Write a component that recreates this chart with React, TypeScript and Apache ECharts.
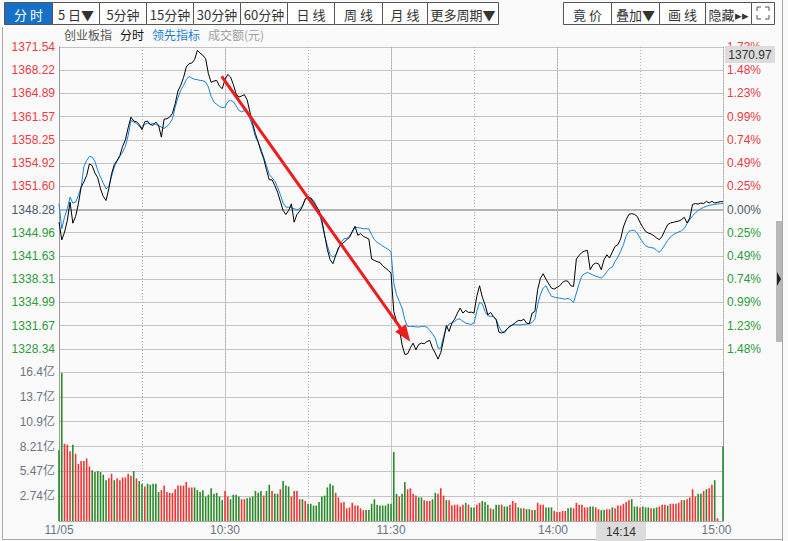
import React, { useEffect, useRef } from 'react';
import * as echarts from 'echarts';

// ---------- data ----------
const priceTicks = [1325.02, 1328.34, 1331.67, 1334.99, 1338.31, 1341.63, 1344.96, 1348.28, 1351.60, 1354.92, 1358.25, 1361.57, 1364.89, 1368.22, 1371.54];
const pctTicks = ['1.73%', '1.48%', '1.23%', '0.99%', '0.74%', '0.49%', '0.25%', '0.00%', '0.25%', '0.49%', '0.74%', '0.99%', '1.23%', '1.48%', '1.73%'];
const volTicks = ['', '2.74亿', '5.47亿', '8.21亿', '10.9亿', '13.7亿', '16.4亿'];
const volMax = 16.42;
const xTickIndex = [0, 60, 120, 180, 240];
const xTickLabels = ['11/05', '10:30', '11:30', '14:00', '15:00'];
const prevClose = 1348.28;

// 指数 (black) per minute, 09:30 .. 11:30 / 13:00 .. 15:00
const indexLine = [
  1346.47, 1343.93, 1345.03, 1346.70, 1349.33, 1346.32, 1347.28, 1349.09, 1351.48, 1352.24,
  1353.15, 1354.82, 1354.54, 1353.49, 1352.82, 1351.24, 1350.14, 1349.57, 1351.24, 1353.39,
  1354.73, 1355.30, 1356.02, 1357.31, 1358.26, 1359.98, 1361.51, 1360.94, 1360.84, 1360.46,
  1359.70, 1360.84, 1360.94, 1360.46, 1360.32, 1360.79, 1360.32, 1358.64, 1361.22, 1361.27,
  1361.51, 1362.04, 1363.42, 1365.24, 1366.05, 1367.15, 1368.67, 1369.15, 1369.25, 1369.73,
  1371.06, 1370.68, 1370.35, 1369.87, 1367.72, 1366.48, 1366.67, 1366.76, 1365.95, 1365.57,
  1366.86, 1367.62, 1367.24, 1366.19, 1364.85, 1364.38, 1364.52, 1364.71, 1363.99, 1362.23,
  1360.56, 1359.12, 1357.93, 1356.59, 1355.54, 1353.96, 1352.53, 1352.53, 1351.72, 1350.76,
  1349.47, 1348.14, 1347.56, 1348.14, 1349.09, 1346.47, 1347.56, 1348.04, 1348.70, 1349.80,
  1350.10, 1349.90, 1349.31, 1348.73, 1348.16, 1346.73, 1344.67, 1342.53, 1341.09, 1340.52,
  1341.67, 1342.81, 1343.29, 1343.58, 1343.96, 1344.29, 1345.15, 1345.87, 1344.58, 1344.82,
  1344.44, 1344.25, 1344.05, 1341.19, 1341.00, 1340.81, 1340.71, 1340.23, 1339.90, 1339.56,
  1339.18, 1333.69, 1332.26, 1331.30, 1328.91, 1327.53, 1327.62, 1328.48, 1329.15, 1328.20,
  1328.96, 1329.15, 1329.06, 1329.39, 1329.54, 1328.44, 1327.72, 1326.86, 1327.82, 1329.63,
  1331.68, 1330.82, 1332.02, 1332.59, 1333.45, 1334.17, 1333.45, 1333.83, 1333.55, 1333.59,
  1333.45, 1335.84, 1337.37, 1335.74, 1334.65, 1333.21, 1333.55, 1332.97, 1332.50, 1330.73,
  1330.59, 1330.82, 1331.21, 1331.54, 1331.78, 1332.11, 1332.40, 1332.35, 1332.59, 1332.02,
  1331.92, 1333.45, 1333.69, 1336.79, 1338.42, 1339.09, 1338.32, 1337.65, 1337.03, 1336.89,
  1337.13, 1337.37, 1337.85, 1338.08, 1337.99, 1337.37, 1337.27, 1341.19, 1341.71, 1342.14,
  1342.33, 1342.43, 1339.66, 1340.38, 1340.62, 1340.52, 1339.66, 1341.09, 1341.81, 1341.33,
  1342.19, 1343.00, 1343.24, 1344.05, 1345.77, 1346.82, 1347.59, 1347.68, 1347.59, 1347.30,
  1346.44, 1345.73, 1345.15, 1344.91, 1344.77, 1344.53, 1344.20, 1343.96, 1344.44, 1345.30,
  1346.11, 1346.35, 1346.44, 1346.54, 1346.63, 1346.82, 1347.16, 1346.35, 1347.06, 1349.02,
  1349.12, 1349.07, 1349.21, 1349.12, 1349.45, 1349.21, 1349.45, 1349.21, 1349.31, 1349.40,
  1349.40,
];

// 领先指标 (blue)
const leadLine = [
  1349.09, 1345.51, 1347.18, 1348.38, 1350.05, 1349.19, 1349.33, 1350.29, 1351.48, 1354.44,
  1355.30, 1355.88, 1355.78, 1355.16, 1353.87, 1352.91, 1352.05, 1351.24, 1351.58, 1353.01,
  1354.35, 1355.21, 1355.88, 1356.50, 1357.31, 1358.88, 1361.03, 1360.79, 1360.65, 1360.17,
  1359.98, 1360.46, 1360.65, 1360.46, 1360.65, 1360.46, 1360.27, 1360.08, 1359.89, 1360.17,
  1360.56, 1361.27, 1362.94, 1364.28, 1365.33, 1366.05, 1366.86, 1367.34, 1367.10, 1366.91,
  1366.86, 1366.76, 1366.72, 1366.53, 1365.81, 1364.47, 1363.66, 1363.33, 1363.04, 1362.85,
  1362.94, 1363.71, 1363.90, 1363.71, 1363.13, 1362.47, 1362.27, 1362.42, 1362.08, 1361.27,
  1360.17, 1358.65, 1357.93, 1356.97, 1355.78, 1354.54, 1353.30, 1352.82, 1352.34, 1351.48,
  1350.43, 1349.19, 1348.62, 1348.62, 1348.52, 1348.38, 1348.23, 1348.38, 1348.84, 1349.70,
  1350.07, 1349.95, 1349.59, 1348.83, 1347.87, 1346.35, 1344.53, 1343.10, 1341.81, 1341.47,
  1341.76, 1342.53, 1343.58, 1344.10, 1344.15, 1344.44, 1345.01, 1345.77, 1345.68, 1345.63,
  1345.53, 1345.53, 1345.49, 1344.67, 1343.96, 1343.58, 1343.34, 1343.05, 1342.81, 1342.57,
  1342.24, 1337.75, 1336.08, 1335.12, 1334.17, 1332.50, 1331.54, 1331.54, 1331.54, 1331.49,
  1331.45, 1331.54, 1331.54, 1331.45, 1330.97, 1330.49, 1329.87, 1328.44, 1328.44, 1330.11,
  1331.30, 1331.92, 1332.02, 1332.26, 1332.59, 1332.59, 1332.26, 1332.02, 1331.92, 1331.83,
  1332.02, 1333.69, 1334.98, 1334.79, 1333.69, 1333.07, 1332.97, 1332.97, 1332.59, 1331.54,
  1330.82, 1330.59, 1331.16, 1331.64, 1331.78, 1331.78, 1331.78, 1331.78, 1331.83, 1331.88,
  1331.92, 1332.11, 1332.59, 1334.65, 1336.08, 1337.03, 1337.37, 1336.56, 1335.84, 1335.74,
  1335.65, 1335.60, 1335.51, 1335.46, 1335.55, 1335.36, 1334.98, 1336.32, 1337.65, 1338.80,
  1339.09, 1339.28, 1339.09, 1338.90, 1338.75, 1338.61, 1338.47, 1338.80, 1339.37, 1339.85,
  1340.04, 1340.85, 1341.47, 1342.29, 1343.24, 1344.53, 1345.15, 1345.30, 1345.30, 1344.91,
  1344.20, 1343.58, 1343.10, 1342.91, 1342.81, 1342.76, 1342.43, 1342.14, 1342.62, 1343.24,
  1343.86, 1344.34, 1344.67, 1344.91, 1345.06, 1345.25, 1345.58, 1346.25, 1346.82, 1347.40,
  1347.78, 1348.11, 1348.40, 1348.59, 1348.73, 1348.88, 1348.95, 1349.02, 1349.07, 1349.10,
  1349.12,
];

// 成交额 (亿元) per minute
const volume = [
  7.8, 16.3, 8.5, 8.4, 7.7, 8.4, 7.4, 6.3, 6.6, 6.6,
  6.9, 6.0, 5.6, 5.4, 5.5, 5.4, 5.1, 4.5, 4.7, 5.2,
  4.5, 4.7, 4.5, 4.8, 4.8, 5.2, 5.0, 5.5, 4.7, 4.4,
  4.1, 3.8, 4.1, 4.0, 4.1, 4.1, 3.2, 3.4, 3.9, 3.2,
  3.1, 3.1, 3.5, 3.9, 3.9, 3.9, 4.3, 3.7, 3.7, 3.7,
  3.4, 3.2, 3.4, 2.7, 2.9, 3.6, 3.0, 3.1, 2.7, 2.3,
  3.3, 2.7, 2.4, 2.9, 2.9, 2.7, 2.4, 2.4, 2.5, 2.6,
  2.7, 3.3, 3.1, 3.3, 2.8, 3.3, 4.0, 3.3, 3.0, 3.0,
  3.5, 4.4, 3.9, 3.8, 2.7, 3.3, 3.3, 2.4, 2.4, 2.2,
  1.9, 1.9, 1.7, 1.7, 2.1, 2.7, 2.8, 3.7, 4.1, 3.9,
  3.1, 2.6, 2.0, 2.1, 1.4, 1.5, 2.0, 1.7, 1.7, 1.4,
  1.2, 1.2, 1.2, 1.9, 2.4, 1.8, 1.7, 1.7, 1.7, 1.9,
  1.9, 7.6, 3.0, 2.7, 3.0, 4.3, 3.5, 3.6, 3.0, 2.8,
  2.6, 2.6, 2.3, 2.2, 2.2, 2.4, 3.1, 3.0, 3.6, 2.8,
  2.3, 2.3, 1.7, 1.8, 1.8, 1.6, 1.8, 2.0, 1.8, 1.5,
  1.5, 1.8, 2.0, 2.2, 2.1, 1.8, 1.4, 1.3, 1.8, 1.8,
  1.8, 1.6, 1.6, 1.8, 2.2, 2.0, 1.5, 1.4, 1.4, 1.3,
  1.3, 1.2, 1.2, 2.0, 1.8, 1.8, 1.5, 1.5, 1.5, 1.1,
  1.0, 1.0, 1.1, 1.1, 1.4, 1.5, 1.4, 2.0, 1.8, 1.8,
  1.5, 1.5, 1.6, 1.6, 1.5, 1.3, 1.2, 1.2, 1.3, 1.3,
  1.5, 1.4, 1.7, 1.7, 1.9, 2.1, 2.3, 2.4, 1.6, 1.6,
  1.5, 1.6, 1.5, 1.5, 1.4, 1.4, 1.5, 1.6, 1.8, 1.8,
  1.7, 1.9, 1.9, 1.9, 2.0, 2.3, 2.3, 2.4, 2.6, 3.5,
  2.7, 3.0, 3.0, 3.3, 3.5, 3.6, 4.0, 4.5, 0.3, 0,
  8.2,
];
// 1 = up (red), 0 = down (green)
const volumeUp = [
  0, 0, 1, 1, 1, 0, 1, 1, 1, 1,
  1, 1, 0, 0, 0, 0, 0, 0, 1, 1,
  0, 1, 1, 1, 1, 1, 1, 0, 1, 0,
  0, 1, 0, 0, 0, 0, 0, 1, 1, 1,
  1, 1, 1, 1, 1, 1, 1, 1, 1, 0,
  0, 0, 0, 0, 0, 0, 0, 0, 0, 0,
  1, 1, 0, 0, 0, 0, 1, 1, 0, 0,
  0, 0, 0, 0, 1, 0, 0, 1, 0, 0,
  1, 0, 0, 0, 1, 1, 1, 1, 0, 1,
  0, 0, 0, 0, 0, 0, 0, 0, 0, 0,
  1, 1, 1, 1, 1, 1, 1, 1, 1, 1,
  1, 0, 0, 0, 0, 0, 0, 0, 0, 0,
  0, 0, 0, 1, 0, 0, 1, 1, 1, 1,
  0, 0, 1, 1, 1, 0, 0, 1, 1, 1,
  0, 1, 1, 1, 1, 1, 1, 0, 1, 0,
  0, 1, 1, 0, 0, 0, 1, 0, 0, 0,
  1, 0, 0, 1, 1, 1, 0, 0, 1, 0,
  0, 1, 0, 1, 1, 1, 0, 0, 0, 1,
  1, 1, 1, 1, 0, 0, 1, 1, 1, 1,
  1, 1, 0, 0, 1, 1, 0, 0, 1, 1,
  0, 1, 1, 1, 1, 1, 1, 0, 0, 0,
  1, 0, 0, 0, 1, 0, 0, 1, 1, 1,
  0, 1, 1, 1, 1, 1, 0, 1, 1, 1,
  1, 0, 0, 1, 0, 1, 1, 0, 1, 0,
  0,
];

// annotation arrow (minute index, price)
const arrowFrom = [58.8, 1367.34];
const arrowTo = [125.2, 1330.34];

const crossPrice = '1370.97';
const crossTime = '14:14';

// ---------- styles ----------
const FONT = '"Liberation Sans", Arial, "Noto Sans CJK SC", sans-serif';
const CJK = '"Noto Sans CJK SC", "Microsoft YaHei", sans-serif';
const RED = '#ee3a45';
const GREEN = '#2e9a3a';
const NEUTRAL = '#4c5a6a';
const BAR_RED = '#f03434';
const BAR_GREEN = '#2a8a2a';
const GRID = '#c4c4c4';

const minuteLabels: string[] = [];
for (let i = 0; i <= 240; i++) {
  const m = i <= 120 ? 9 * 60 + 30 + i : 13 * 60 + (i - 120);
  minuteLabels.push(String(Math.floor(m / 60)).padStart(2, '0') + ':' + String(m % 60).padStart(2, '0'));
}

const leftButtons = [
  { t: '分 时', x: 4, w: 48, sel: true },
  { t: '5 日▼', x: 52, w: 47 },
  { t: '5分钟', x: 99, w: 47 },
  { t: '15分钟', x: 146, w: 47 },
  { t: '30分钟', x: 193, w: 47 },
  { t: '60分钟', x: 240, w: 47 },
  { t: '日 线', x: 287, w: 47 },
  { t: '周 线', x: 334, w: 48 },
  { t: '月 线', x: 382, w: 45 },
  { t: '更多周期▼', x: 427, w: 71 },
];
const rightButtons = [
  { t: '竟 价', x: 563, w: 48 },
  { t: '叠加▼', x: 611, w: 48 },
  { t: '画 线', x: 659, w: 46 },
  { t: '隐藏▸▸', x: 705, w: 46 },
  { t: '', x: 751, w: 23 },
];

export default function App() {
  const ref = useRef<HTMLDivElement>(null);
  useEffect(() => {
    const chart = echarts.init(ref.current!, null, { renderer: 'svg' });
    const pMin = priceTicks[0];
    const pMax = priceTicks[priceTicks.length - 1];
    const pInt = (pMax - pMin) / (priceTicks.length - 1);
    const pIdx = (v: number) => Math.round((v - pMin) / pInt);
    const mid = priceTicks.indexOf(prevClose);
    const tickColor = (v: any) => {
      const k = pIdx(Number(v));
      return k < mid ? GREEN : k > mid ? RED : NEUTRAL;
    };
    const vInt = volMax / (volTicks.length - 1);

    const buttons: any[] = [];
    [...leftButtons, ...rightButtons].forEach((b: any) => {
      buttons.push({
        type: 'rect',
        shape: { x: b.x + 0.5, y: 2.5, width: b.w, height: 22 },
        style: { fill: b.sel ? '#1670c8' : '#ffffff', stroke: '#555555', lineWidth: 1 },
        z: 10,
      });
      if (b.t) {
        buttons.push({
          type: 'text',
          x: b.x + b.w / 2 + 0.5,
          y: 14,
          style: {
            text: b.t,
            fill: b.sel ? '#ffffff' : '#333333',
            font: '13px ' + CJK,
            textAlign: 'center',
            textVerticalAlign: 'middle',
          },
          z: 11,
        });
      }
    });
    // full-screen icon corners
    const fx = 757, fy = 7, fs = 12;
    const corner = (pts: number[][]) => ({
      type: 'polyline', shape: { points: pts }, style: { stroke: '#555', lineWidth: 1, fill: null }, z: 11,
    });
    buttons.push(corner([[fx, fy + 4], [fx, fy], [fx + 4, fy]]));
    buttons.push(corner([[fx + fs - 4, fy], [fx + fs, fy], [fx + fs, fy + 4]]));
    buttons.push(corner([[fx, fy + fs - 4], [fx, fy + fs], [fx + 4, fy + fs]]));
    buttons.push(corner([[fx + fs - 4, fy + fs], [fx + fs, fy + fs], [fx + fs, fy + fs - 4]]));

    const legend = [
      { t: '创业板指', x: 64, c: '#555555' },
      { t: '分时', x: 120, c: '#111111' },
      { t: '领先指标', x: 152, c: '#1a7fd4' },
      { t: '成交额(元)', x: 208, c: '#a0a0a0' },
    ].map((l) => ({
      type: 'text', x: l.x, y: 34,
      style: { text: l.t, fill: l.c, font: '12px ' + CJK, textAlign: 'left', textVerticalAlign: 'middle' },
      z: 10,
    }));

    const option: any = {
      animation: false,
      backgroundColor: '#fafafa',
      grid: [
        { left: 59, top: 47, width: 664, height: 325 },
        { left: 59, top: 372, width: 664, height: 149 },
      ],
      xAxis: [
        {
          type: 'value', gridIndex: 0, min: 0, max: 240, interval: 60,
          axisLine: { show: false }, axisTick: { show: false }, axisLabel: { show: false },
          splitLine: { show: true, lineStyle: { color: GRID, width: 1 } },
        },
        {
          type: 'value', gridIndex: 0, min: 0, max: 240, interval: 30,
          axisLine: { show: false }, axisTick: { show: false }, axisLabel: { show: false },
          splitLine: { show: true, lineStyle: { color: '#b0b0b0', width: 1, type: [1, 2] } },
        },
        {
          type: 'category', gridIndex: 1, data: minuteLabels, boundaryGap: false,
          axisLine: { show: true, lineStyle: { color: '#aaaaaa' } },
          axisTick: { show: false },
          axisLabel: {
            interval: (i: number) => xTickIndex.includes(i),
            formatter: (_v: string, i: number) => {
              const k = xTickIndex.indexOf(i);
              if (k < 0) return '';
              if (i === 240) return '{r|' + xTickLabels[k] + '}';
              if (i === 180) return '{m|' + xTickLabels[k] + '}';
              return xTickLabels[k];
            },
            color: '#6a7585', fontSize: 12, fontFamily: FONT, margin: 3,
            rich: {
              r: { padding: [0, 13, 0, 0], color: '#6a7585', fontSize: 12, fontFamily: FONT },
              m: { padding: [0, 8, 0, 0], color: '#6a7585', fontSize: 12, fontFamily: FONT },
            },
          },
          splitLine: {
            show: true,
            interval: (i: number) => i % 60 === 0,
            lineStyle: { color: GRID, width: 1 },
          },
        },
        {
          type: 'category', gridIndex: 1, data: minuteLabels, boundaryGap: false,
          axisLine: { show: false }, axisTick: { show: false }, axisLabel: { show: false },
          splitLine: {
            show: true,
            interval: (i: number) => i % 60 === 30,
            lineStyle: { color: '#b0b0b0', width: 1, type: [1, 2] },
          },
        },
      ],
      yAxis: [
        {
          type: 'value', gridIndex: 0, position: 'left', min: pMin, max: pMax, interval: pInt,
          axisLine: { show: true, lineStyle: { color: '#999999' } },
          axisTick: { show: false },
          axisLabel: {
            showMinLabel: false, margin: 4, fontSize: 12, fontFamily: FONT,
            formatter: (v: number) => priceTicks[pIdx(v)].toFixed(2),
            color: tickColor,
          },
          splitLine: { show: true, lineStyle: { color: GRID, width: 1 } },
        },
        {
          type: 'value', gridIndex: 0, position: 'right', min: pMin, max: pMax, interval: pInt,
          axisLine: { show: true, lineStyle: { color: '#999999' } },
          axisTick: { show: false },
          axisLabel: {
            showMinLabel: false, margin: 4, fontSize: 12, fontFamily: FONT,
            formatter: (v: number) => pctTicks[pIdx(v)],
            color: tickColor,
          },
          splitLine: { show: false },
        },
        {
          type: 'value', gridIndex: 1, position: 'left', min: 0, max: volMax, interval: vInt,
          axisLine: { show: true, lineStyle: { color: '#999999' } },
          axisTick: { show: false },
          axisLabel: {
            showMinLabel: false, margin: 4, fontSize: 12, fontFamily: FONT, color: '#6a7585',
            formatter: (v: number) => volTicks[Math.round(v / vInt)],
          },
          splitLine: { show: true, lineStyle: { color: GRID, width: 1 } },
        },
        {
          type: 'value', gridIndex: 1, position: 'right', min: 0, max: volMax,
          axisLine: { show: true, lineStyle: { color: '#999999' } },
          axisTick: { show: false }, axisLabel: { show: false }, splitLine: { show: false },
        },
      ],
      series: [
        {
          name: '领先指标', type: 'line', xAxisIndex: 0, yAxisIndex: 0,
          data: leadLine.map((v, i) => [i, v]),
          showSymbol: false, symbol: 'none',
          lineStyle: { color: '#1482dc', width: 1 },
          z: 3,
          markLine: {
            silent: true, symbol: ['none', 'none'], label: { show: false },
            lineStyle: { color: '#b4b4b4', width: 2, type: 'solid' },
            data: [{ yAxis: prevClose }],
            z: 2,
          },
        },
        {
          name: '分时', type: 'line', xAxisIndex: 0, yAxisIndex: 0,
          data: indexLine.map((v, i) => [i, v]),
          showSymbol: false, symbol: 'none',
          lineStyle: { color: '#000000', width: 1 },
          z: 4,
          markLine: {
            silent: true,
            symbol: ['none', 'triangle'],
            symbolSize: [13, 17],
            label: { show: false },
            lineStyle: { color: '#ee1c1c', width: 3, type: 'solid' },
            itemStyle: { color: '#ee1c1c' },
            data: [[{ coord: arrowFrom }, { coord: arrowTo }]],
            z: 6,
          },
        },
        {
          name: '成交额', type: 'bar', xAxisIndex: 2, yAxisIndex: 2,
          data: volume.map((v, i) => ({
            value: v,
            itemStyle: { color: volumeUp[i] ? BAR_RED : BAR_GREEN },
          })),
          barWidth: 1.6,
        },
      ],
      graphic: [
        // outer frame
        { type: 'line', shape: { x1: 2.5, y1: 27, x2: 2.5, y2: 539.5 }, style: { stroke: '#a8a8a8', lineWidth: 1 }, z: 1 },
        { type: 'line', shape: { x1: 2.5, y1: 539.5, x2: 782.5, y2: 539.5 }, style: { stroke: '#a8a8a8', lineWidth: 1 }, z: 1 },
        { type: 'line', shape: { x1: 782.5, y1: 0, x2: 782.5, y2: 541 }, style: { stroke: '#a8a8a8', lineWidth: 1 }, z: 1 },
        ...buttons,
        ...legend,
        // price tag
        { type: 'rect', shape: { x: 725, y: 46, width: 50, height: 17 }, style: { fill: '#dcdcdc' }, z: 20 },
        {
          type: 'text', x: 750, y: 55,
          style: { text: crossPrice, fill: '#333333', font: '12px ' + FONT, textAlign: 'center', textVerticalAlign: 'middle' },
          z: 21,
        },
        // time tag
        { type: 'rect', shape: { x: 596, y: 522, width: 50, height: 19 }, style: { fill: '#dcdcdc' }, z: 20 },
        {
          type: 'text', x: 621, y: 531.5,
          style: { text: crossTime, fill: '#333333', font: '12px ' + FONT, textAlign: 'center', textVerticalAlign: 'middle' },
          z: 21,
        },
        // side scrollbar
        { type: 'rect', shape: { x: 776, y: 221, width: 6, height: 121 }, style: { fill: '#b8b8b8' }, z: 20 },
        { type: 'polygon', shape: { points: [[777, 272], [781, 279], [777, 286]] }, style: { fill: '#222222' }, z: 21 },
      ],
    };
    chart.setOption(option);
    return () => chart.dispose();
  }, []);
  return (
    <div
      ref={ref}
      style={{ position: 'fixed', left: 0, top: 0, width: 788, height: 541, background: '#fafafa' }}
    />
  );
}
